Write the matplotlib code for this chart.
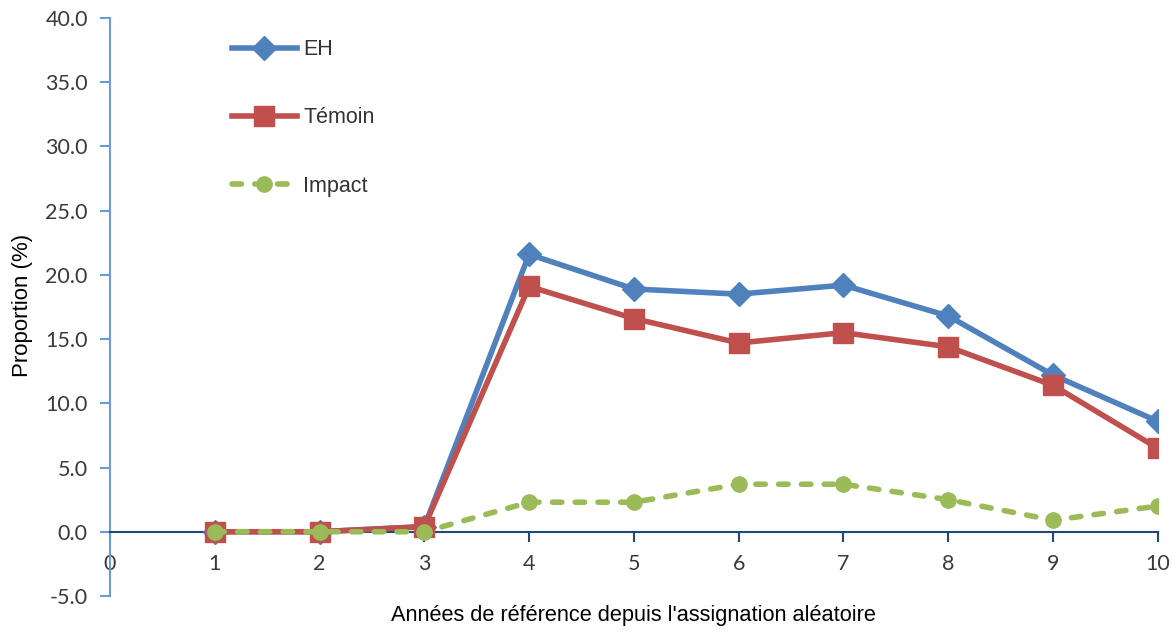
import matplotlib
matplotlib.use("Agg")
import matplotlib.pyplot as plt

plt.rcParams['font.family'] = ['Liberation Sans', 'DejaVu Sans']
TICK_FONT = ['Lato', 'Liberation Sans', 'DejaVu Sans']

years = [1, 2, 3, 4, 5, 6, 7, 8, 9, 10]
eh = [0.0, 0.0, 0.4, 21.6, 18.9, 18.5, 19.2, 16.8, 12.2, 8.6]
temoin = [0.0, 0.0, 0.4, 19.1, 16.6, 14.7, 15.5, 14.4, 11.4, 6.5]
impact = [0.0, 0.0, 0.0, 2.3, 2.3, 3.7, 3.7, 2.5, 0.9, 2.0]
xticks = list(range(0, 11))
yticks = [-5, 0, 5, 10, 15, 20, 25, 30, 35, 40]

fig = plt.figure(figsize=(11.73, 6.33), dpi=100)
ax = fig.add_axes([0.0938, 0.0585, 0.8932, 0.9131])

c_eh = '#4F81BD'
c_t = '#C0504D'
c_i = '#9BBB59'

ax.plot(years, eh, color=c_eh, lw=4, marker='D', ms=12, label='EH', zorder=3)
ax.plot(years, temoin, color=c_t, lw=4, marker='s', ms=14, label='Témoin', zorder=4)
ax.plot(years, impact, color=c_i, lw=4, ls=(0, (1.7, 2.4)), marker='o', ms=11,
        label='Impact', zorder=5, dash_capstyle='round')

ax.set_xlim(0, 10)
ax.set_ylim(-5, 40)
ax.set_xticks(xticks)
ax.set_yticks(yticks)
ax.set_yticklabels([f'{v:.1f}' for v in yticks])

for s in ['top', 'right']:
    ax.spines[s].set_visible(False)
ax.spines['bottom'].set_position(('data', 0))
ax.spines['bottom'].set_color('#1F497D')
ax.spines['bottom'].set_linewidth(1.5)
ax.spines['left'].set_color('#6A9BD8')
ax.spines['left'].set_linewidth(1.5)
ax.tick_params(axis='x', direction='out', length=7, width=1.5, color='#1F497D',
               labelsize=15.5, labelcolor='#3a3a3a', pad=9, labelfontfamily=TICK_FONT)
ax.tick_params(axis='y', direction='out', length=7, width=1.5, color='#6A9BD8',
               labelsize=15.5, labelcolor='#3a3a3a', pad=9, labelfontfamily=TICK_FONT)

fig.text(0.540, 0.028, "Années de référence depuis l'assignation aléatoire",
         ha='center', va='center', fontsize=15.7, color='black')
fig.text(0.019, 0.518, 'Proportion (%)', rotation=90, ha='center', va='center',
         fontsize=16, color='black')

leg = ax.legend(loc='upper left', bbox_to_anchor=(0.098, 0.997), frameon=False,
                fontsize=15.5, handlelength=3.0, labelspacing=2.2, handletextpad=0.3,
                markerscale=1.0)
for t in leg.get_texts():
    t.set_color('#333333')

fig.savefig('out.png', dpi=100)
